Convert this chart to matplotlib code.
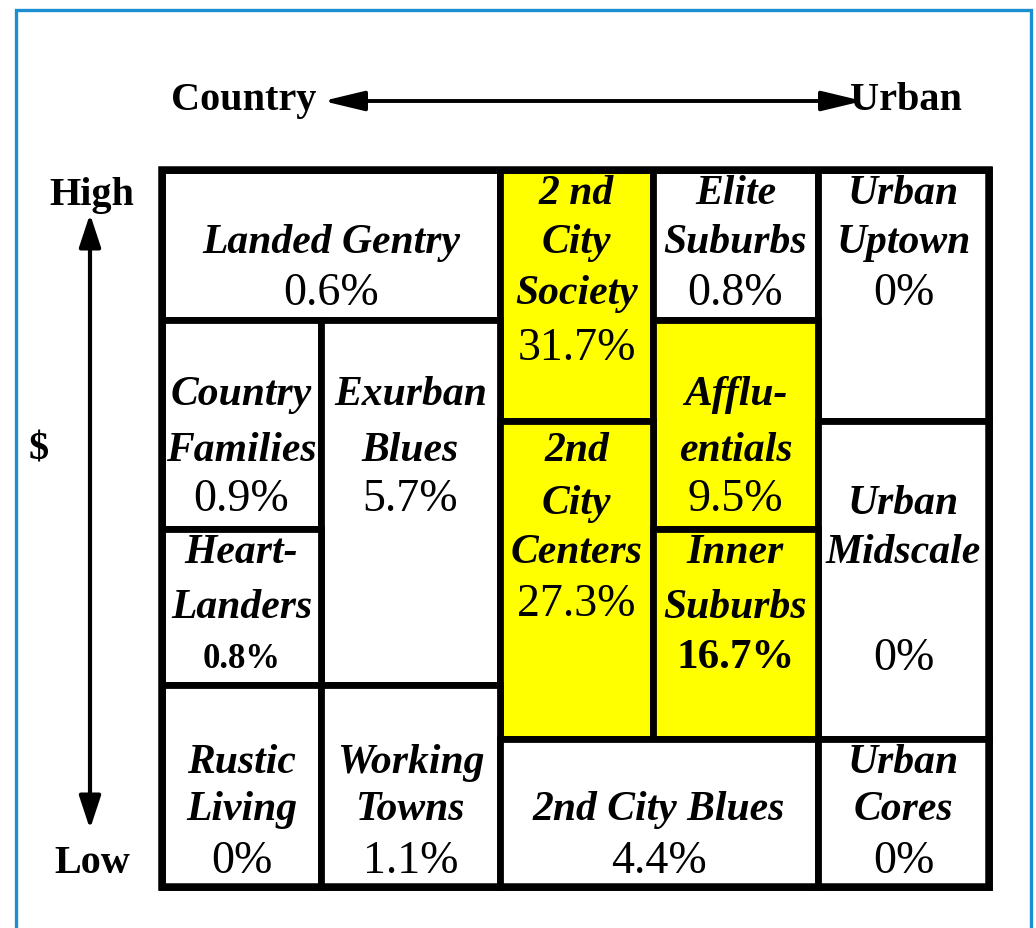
import matplotlib
matplotlib.use("Agg")
import matplotlib.pyplot as plt
from matplotlib.patches import Rectangle, FancyArrowPatch

# Segment data
segments = ["Landed Gentry", "2 nd City Society", "Elite Suburbs", "Urban Uptown",
            "Country Families", "Exurban Blues", "Affluentials",
            "2nd City Centers", "Urban Midscale", "Heart-Landers",
            "Inner Suburbs", "Rustic Living", "Working Towns",
            "2nd City Blues", "Urban Cores"]
shares = [0.6, 31.7, 0.8, 0.0,
          0.9, 5.7, 9.5,
          27.3, 0.0, 0.8,
          16.7, 0.0, 1.1,
          4.4, 0.0]
highlight = [False, True, False, False,
             False, False, True,
             True, False, False,
             True, False, False,
             False, False]
# how the names are broken over lines in the boxes
name_lines = [["Landed Gentry"], ["2 nd", "City", "Society"], ["Elite", "Suburbs"], ["Urban", "Uptown"],
              ["Country", "Families"], ["Exurban", "Blues"], ["Afflu-", "entials"],
              ["2nd", "City", "Centers"], ["Urban", "Midscale"], ["Heart-", "Landers"],
              ["Inner", "Suburbs"], ["Rustic", "Living"], ["Working", "Towns"],
              ["2nd City Blues"], ["Urban", "Cores"]]

# ---- layout (pixels) ----
W, H = 1036, 929
xe = [162, 321, 500, 653, 818, 989]
ye = [171, 321, 422, 530, 686, 740, 888]
# cell spans: col0, col1, row0, row1
spans = [(0, 2, 0, 1), (2, 3, 0, 2), (3, 4, 0, 1), (4, 5, 0, 2),
         (0, 1, 1, 3), (1, 2, 1, 4), (3, 4, 1, 3),
         (2, 3, 2, 5), (4, 5, 2, 5), (0, 1, 3, 4),
         (3, 4, 3, 5), (0, 1, 4, 6), (1, 2, 4, 6),
         (2, 4, 5, 6), (4, 5, 5, 6)]
# baselines of name lines, then of the percentage
baselines = [[253, 305], [204, 253, 304, 360], [204, 253, 305], [204, 253, 305],
             [405, 461, 511], [405, 461, 511], [405, 461, 511],
             [461, 514, 563, 616], [514, 563, 670], [563, 618, 668],
             [563, 618, 668], [773, 820, 873], [773, 820, 873],
             [820, 873], [773, 820, 873]]
bold_pct = {"Heart-Landers": 25, "Inner Suburbs": 31}

fig = plt.figure(figsize=(W / 100, H / 100), dpi=100)
ax = fig.add_axes([0, 0, 1, 1])
ax.set_xlim(0, W)
ax.set_ylim(H, 0)
ax.axis("off")

serif = ["Liberation Serif", "DejaVu Serif"]
lw = 4.9

# blue frame
ax.plot([15.5, 15.5, 1031, 1031], [H + 5, 11, 11, H + 5], color="#1b8fd2", lw=2.4,
        solid_joinstyle="miter")

for name, val, hl, lines, (c0, c1, r0, r1), bl in zip(
        segments, shares, highlight, name_lines, spans, baselines):
    x0, x1 = xe[c0], xe[c1]
    y0, y1 = ye[r0], ye[r1]
    ax.add_patch(Rectangle((x0, y0), x1 - x0, y1 - y0,
                           facecolor="#ffff00" if hl else "white",
                           edgecolor="black", lw=lw, joinstyle="miter", zorder=2))
    xc = (x0 + x1) / 2
    for txt, y in zip(lines, bl[:-1]):
        ax.text(xc, y, txt, ha="center", va="baseline", family=serif,
                fontsize=30, fontweight="bold", fontstyle="italic", zorder=4)
    lab = f"{val:g}%"
    if name in bold_pct:
        ax.text(xc, bl[-1], lab, ha="center", va="baseline", family=serif,
                fontsize=bold_pct[name], fontweight="bold", zorder=4)
    else:
        ax.text(xc, bl[-1], lab, ha="center", va="baseline", family=serif,
                fontsize=33, zorder=4)

# outer border on top
ax.add_patch(Rectangle((xe[0], ye[0]), xe[-1] - xe[0], ye[-1] - ye[0],
                       facecolor="none", edgecolor="black", lw=lw + 0.5,
                       joinstyle="miter", zorder=3))

# axes labels and arrows
lab_kw = dict(family=serif, fontsize=29, fontweight="bold", va="baseline")
ax.text(171, 110, "Country", ha="left", **lab_kw)
ax.text(850, 110, "Urban", ha="left", **lab_kw)
ax.text(92, 205, "High", ha="center", **lab_kw)
ax.text(92, 873, "Low", ha="center", **lab_kw)
ax.text(39, 460, "$", ha="center", **lab_kw)

ax.add_patch(FancyArrowPatch((323, 102), (863, 102),
                             arrowstyle="<|-|>,head_length=1.25,head_width=0.3",
                             mutation_scale=20, lw=2.8, color="black",
                             shrinkA=0, shrinkB=0, zorder=5))
ax.add_patch(FancyArrowPatch((90, 215), (90, 830),
                             arrowstyle="<|-|>,head_length=1.0,head_width=0.33",
                             mutation_scale=20, lw=3.0, color="black",
                             shrinkA=0, shrinkB=0, zorder=5))

fig.savefig("out.png", dpi=100)
